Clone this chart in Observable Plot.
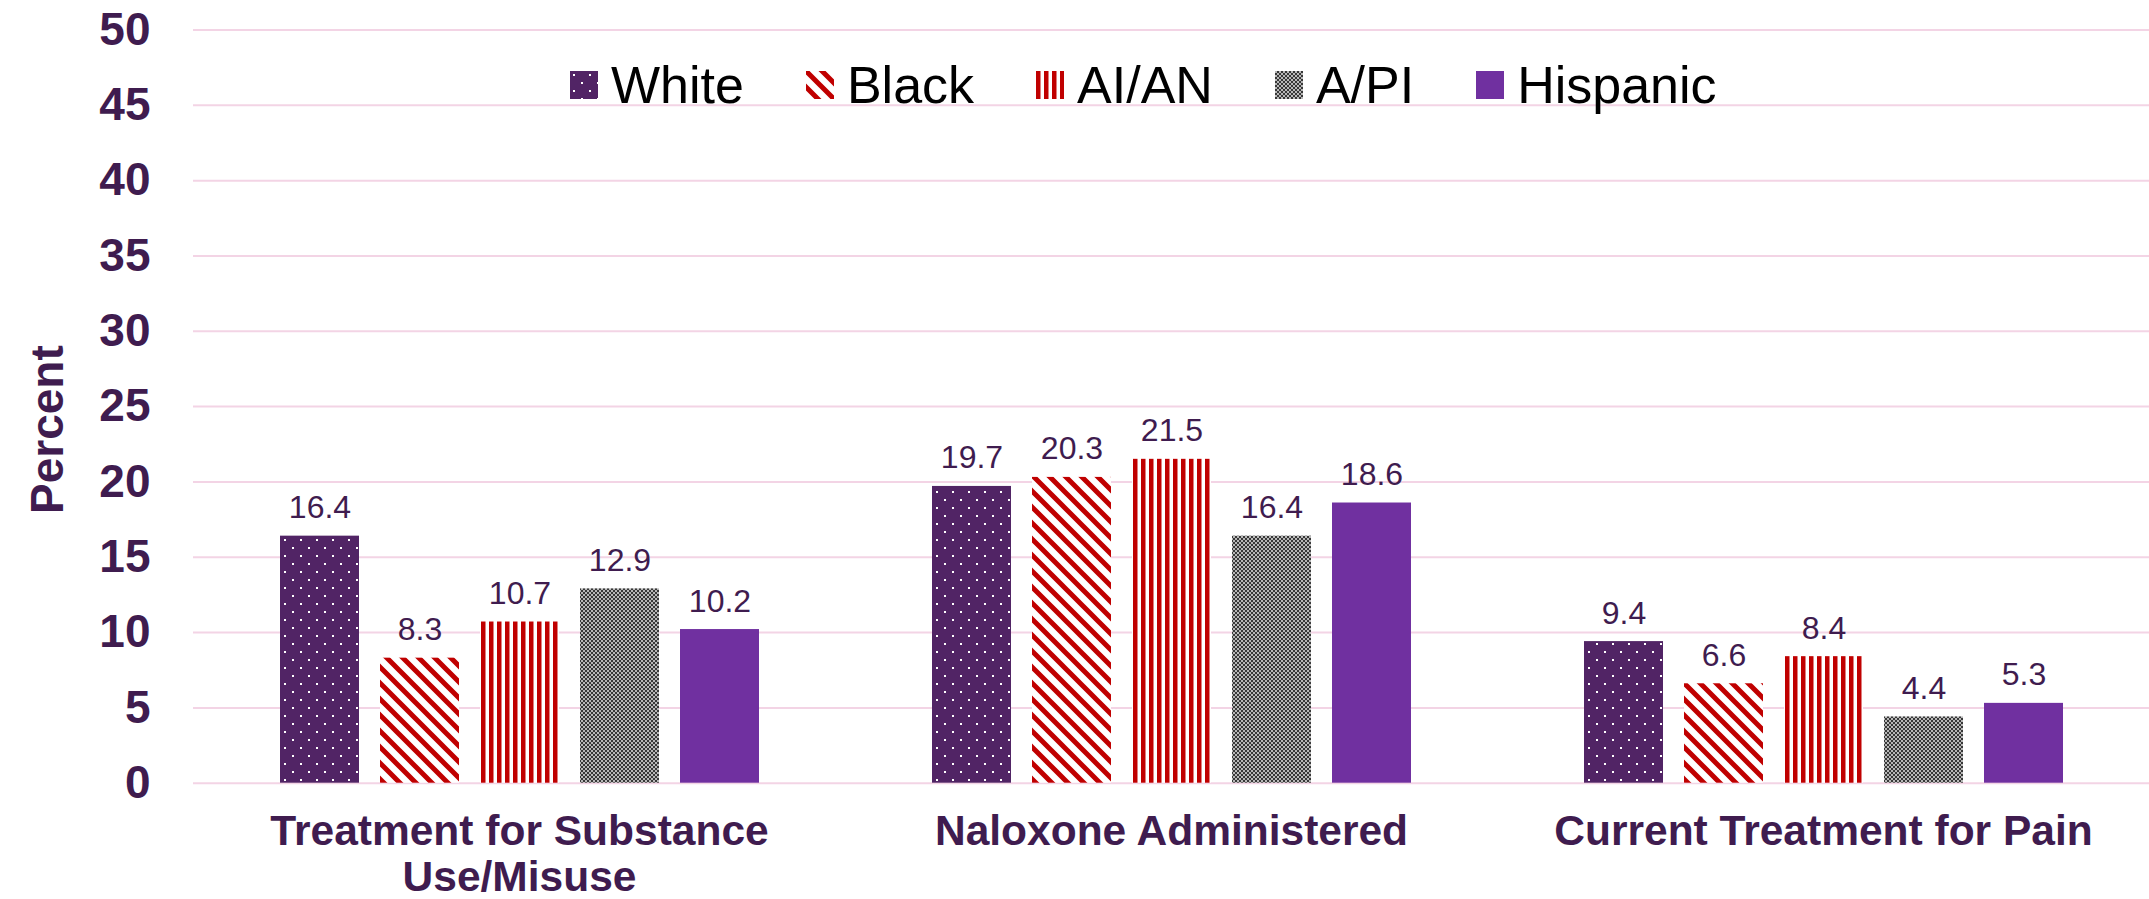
<!DOCTYPE html>
<html>
<head>
<meta charset="utf-8">
<script src="https://cdn.jsdelivr.net/npm/d3@7"></script>
<script src="https://cdn.jsdelivr.net/npm/@observablehq/plot@0.6"></script>
<style>
  html, body { margin: 0; padding: 0; background: #fff; }
  #wrap { position: relative; width: 2149px; height: 899px; overflow: hidden; }
  #wrap > svg { display: block; }
  #legend {
    position: absolute; left: 570px; top: 55px; height: 60px;
    display: flex; align-items: center;
    font-family: "Liberation Sans", Arial, sans-serif; font-size: 52px; line-height: 60px; color: #000;
    white-space: nowrap;
  }
  #legend .item { display: flex; align-items: center; margin-right: 62px; }
  #legend .item:last-child { margin-right: 0; }
  #legend .item svg { width: 28px; height: 28px; margin-right: 13px; display: block; }
</style>
</head>
<body>
<div id="wrap"><div id="legend"></div></div>
<script>
// ---- Data ----
const categories = ["Treatment for Substance Use/Misuse", "Naloxone Administered", "Current Treatment for Pain"];
const categoryLabels = ["Treatment for Substance\nUse/Misuse", "Naloxone Administered", "Current Treatment for Pain"];
const races = ["White", "Black", "AI/AN", "A/PI", "Hispanic"];
const whiteValues = [16.4, 19.7, 9.4];
const blackValues = [8.3, 20.3, 6.6];
const aianValues = [10.7, 21.5, 8.4];
const apiValues = [12.9, 16.4, 4.4];
const hispanicValues = [10.2, 18.6, 5.3];
const yTicks = [0, 5, 10, 15, 20, 25, 30, 35, 40, 45, 50];
const yLabel = "Percent";

// ---- Styles ----
const patternIds = ["pat-white", "pat-black", "pat-aian", "pat-api", "pat-hisp"];
const patternDefs = `
<pattern id="pat-white" patternUnits="userSpaceOnUse" width="16" height="16">
  <rect width="16" height="16" fill="#512465"/>
  <rect x="3" y="3" width="2" height="2" fill="#fff"/>
  <rect x="11" y="11" width="2" height="2" fill="#fff"/>
</pattern>
<pattern id="pat-black" patternUnits="userSpaceOnUse" width="16" height="16">
  <rect width="16" height="16" fill="#fff"/>
  <path d="M-4,-4L20,20M-4,12L4,20M12,-4L20,4" stroke="#c00000" stroke-width="5"/>
</pattern>
<pattern id="pat-aian" patternUnits="userSpaceOnUse" width="8" height="8">
  <rect width="8" height="8" fill="#fff"/>
  <rect width="4.5" height="8" fill="#c00000"/>
</pattern>
<pattern id="pat-api" patternUnits="userSpaceOnUse" width="4" height="4">
  <rect width="4" height="4" fill="#383838"/>
  <rect x="0.2" y="0.2" width="1.6" height="1.6" fill="#fff"/>
  <rect x="2.2" y="2.2" width="1.6" height="1.6" fill="#fff"/>
</pattern>
<pattern id="pat-hisp" patternUnits="userSpaceOnUse" width="8" height="8">
  <rect width="8" height="8" fill="#7030a0"/>
</pattern>`;

const seriesValues = [whiteValues, blackValues, aianValues, apiValues, hispanicValues];
const data = [];
categories.forEach((c, i) => races.forEach((r, j) => data.push({category: c, race: r, value: seriesValues[j][i]})));

const textColor = "#3f1c4f";
const font = '"Liberation Sans", Arial, sans-serif';
const fmt = d3.format(".1f");

const chart = Plot.plot({
  width: 2149,
  height: 899,
  marginLeft: 192,
  marginRight: 0,
  marginTop: 29.5,
  marginBottom: 116.3,
  style: {fontFamily: font, background: "#fff", overflow: "visible"},
  fx: {domain: categories, padding: 0, axis: null},
  x: {domain: races, paddingInner: 0.215, paddingOuter: 0.85, axis: null},
  y: {domain: [0, 50], axis: null},
  color: {domain: races, range: patternIds.map(id => `url(#${id})`)},
  marks: [
    Plot.gridY(yTicks, {stroke: "#f3d4e5", strokeOpacity: 1, strokeWidth: 2}),
    Plot.axisY(yTicks, {
      tickSize: 0, tickPadding: 43, fontSize: 46, fontWeight: "bold", fill: textColor, label: null
    }),
    Plot.text([yLabel], {
      fx: () => categories[0], text: d => d, frameAnchor: "left", rotate: -90,
      textAnchor: "middle", lineAnchor: "middle", dx: -145, dy: 23,
      fontSize: 46, fontWeight: "bold", fill: textColor
    }),
    Plot.barY(data, {fx: "category", x: "race", y: "value", fill: "race"}),
    Plot.text(data, {
      fx: "category", x: "race", y: "value", text: d => fmt(d.value),
      lineAnchor: "bottom", dy: -18, fontSize: 32, fill: textColor
    }),
    Plot.text(categories, {
      fx: d => d, text: (d, i) => categoryLabels[i],
      frameAnchor: "bottom", lineAnchor: "top", dy: 29.7, lineHeight: 1.08,
      fontSize: 42.5, fontWeight: "bold", fill: textColor
    })
  ]
});

d3.select(chart).insert("defs", ":first-child").html(patternDefs);
document.getElementById("wrap").prepend(chart);

// Legend
const legend = d3.select("#legend");
races.forEach((r, j) => {
  const item = legend.append("div").attr("class", "item");
  item.append("svg").attr("viewBox", "0 0 28 28")
    .append("rect").attr("width", 28).attr("height", 28).attr("fill", `url(#${patternIds[j]})`);
  item.append("span").text(r);
});
</script>
</body>
</html>
